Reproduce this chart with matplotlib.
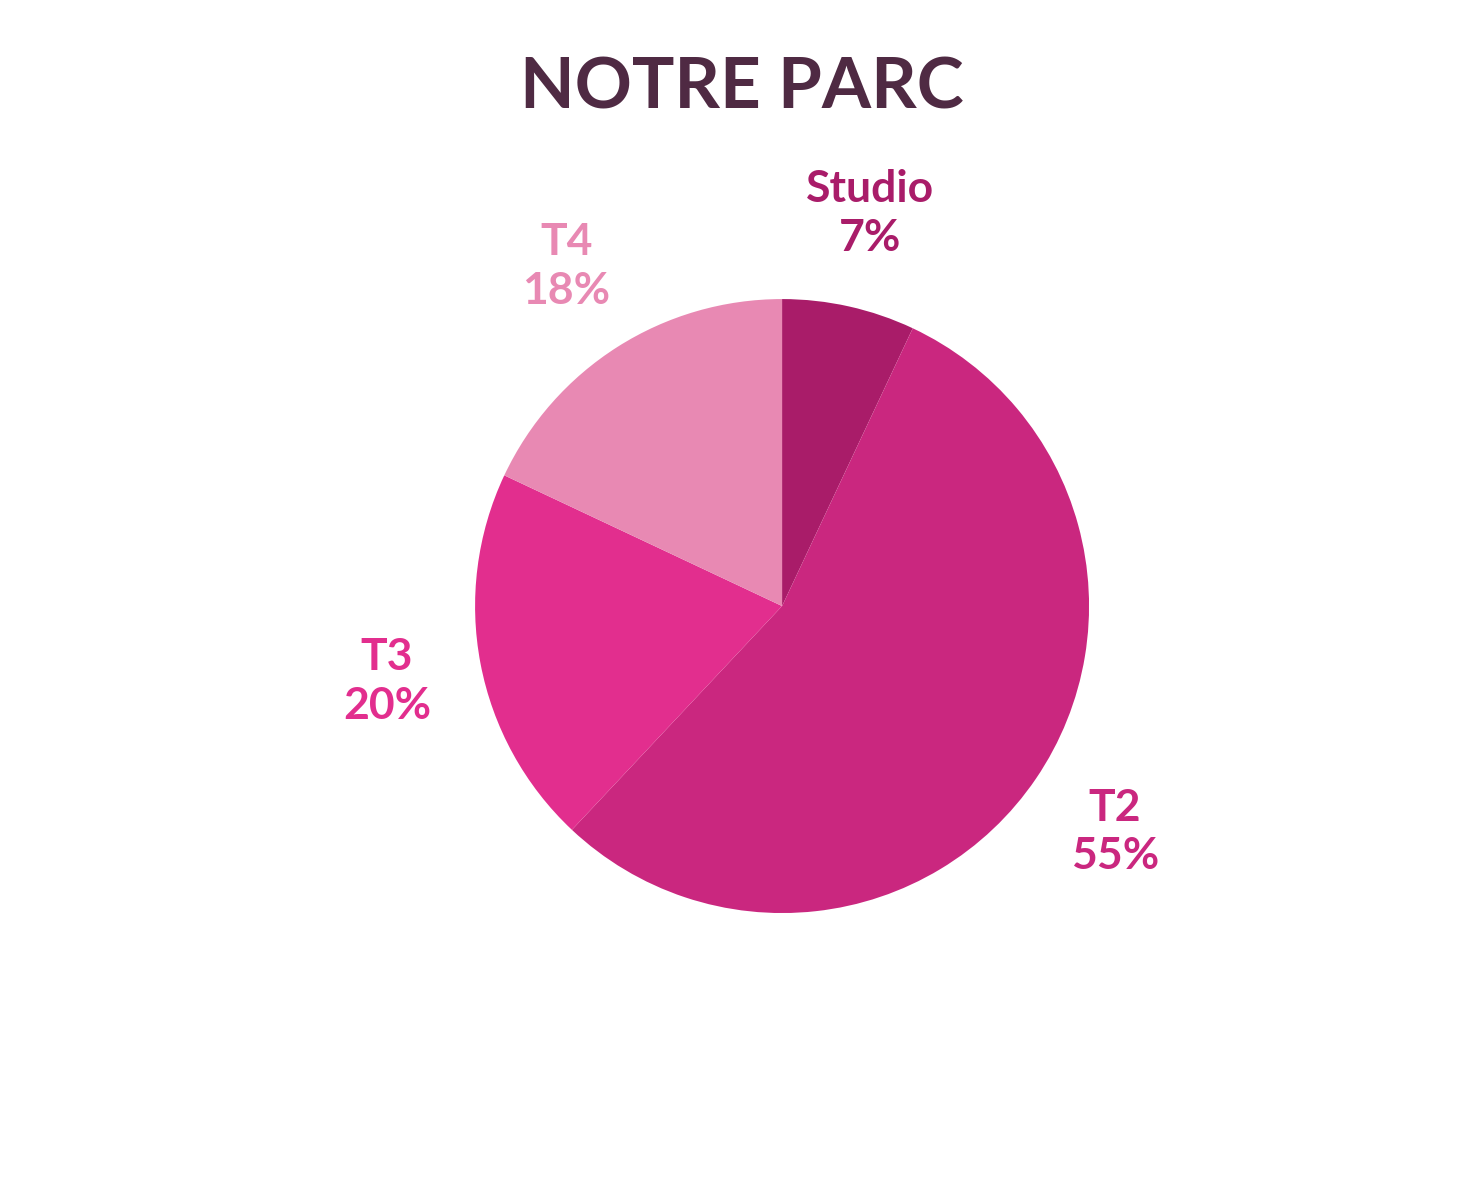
import matplotlib
matplotlib.use("Agg")
import matplotlib.pyplot as plt

categories = ["Studio", "T2", "T3", "T4"]
values = [7, 55, 20, 18]
colors = ["#A91C69", "#CA277F", "#E22E8E", "#E889B3"]

fig = plt.figure(figsize=(14.84, 11.83), dpi=100)
fig.patch.set_facecolor("white")
w, h = 0.4138 * 1.25, 0.519 * 1.25
ax = fig.add_axes([0.527 - w / 2, 0.4877 - h / 2, w, h])
labels = [f"{c}\n{v}%" for c, v in zip(categories, values)]
wedges, texts = ax.pie(values, colors=colors, startangle=90, counterclock=False,
                       labels=labels, labeldistance=1.31,
                       wedgeprops=dict(linewidth=0))
for t, c in zip(texts, colors):
    t.set_ha("center"); t.set_va("center")
    t.set_color(c); t.set_fontsize(32); t.set_fontweight("bold")
    t.set_family("Lato"); t.set_linespacing(1.25)
ax.set_xlim(-1.25, 1.25); ax.set_ylim(-1.25, 1.25)
ax.set_aspect("equal")
fig.text(0.5, 0.926, "NOTRE PARC", ha="center", va="center", fontsize=51,
         fontweight="bold", family="Lato", color="#4F2A43")
fig.savefig("out.png", dpi=100)
